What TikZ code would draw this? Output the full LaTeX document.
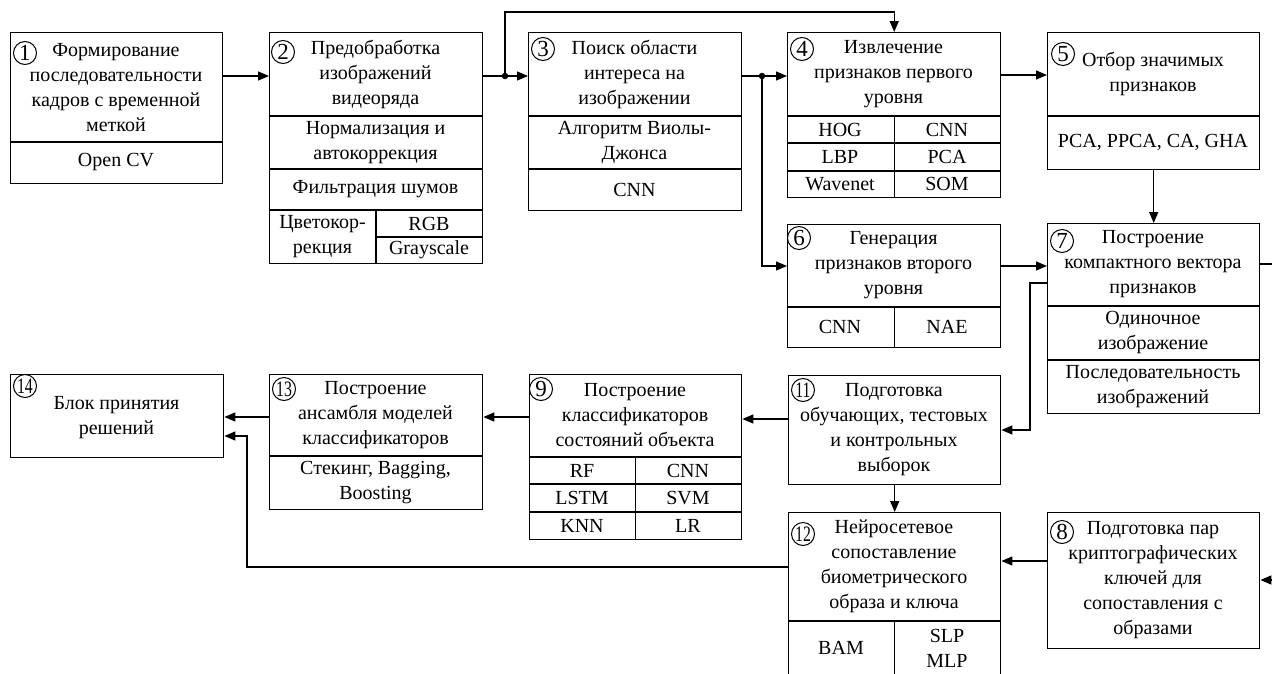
\documentclass[tikz,border=0pt]{standalone}
\usepackage{graphicx}
\usepackage{fontspec}
\setmainfont{Liberation Serif}
\usetikzlibrary{arrows.meta}

\newcommand{\twodig}[1]{\scalebox{0.72}[1]{#1}}

\tikzset{
  box/.style={draw, line width=1.4pt, rectangle, inner sep=0pt, anchor=north west},
  txt/.style={align=center, inner sep=0pt, font=\fontsize{20}{25}\selectfont},
  num/.style={draw, circle, line width=1pt, minimum size=23pt, inner sep=0pt,
              font=\fontsize{23}{23}\selectfont},
  numw/.style={num, font=\fontsize{22}{22}\selectfont},
  sep/.style={line width=1.4pt},
  link/.style={line width=1.4pt},
  arr/.style={line width=1.4pt, -{Triangle[length=11pt,width=9pt]}},
  dot/.style={circle, fill, inner sep=0pt, minimum size=6.5pt},
}

\begin{document}
\begin{tikzpicture}[x=1pt, y=-1pt]
\path[use as bounding box, clip] (0,0) rectangle (1272,673);

% ---------- block 1: frame sequence ----------
\node[box, minimum width=212pt, minimum height=151pt] (b1) at (10,32) {};
\draw[sep] (b1.west |- 0,142) -- (b1.east |- 0,142);
\node[num] (n1) at (25,53) {1};
\node[txt] (t1) at (116,87.5) {Формирование\\последовательности\\кадров с временной\\меткой};
\node[txt] (t1a) at (116,162.5) {Open CV};

% ---------- block 2: preprocessing ----------
\node[box, minimum width=213pt, minimum height=231pt] (b2) at (269,32) {};
\draw[sep] (b2.west |- 0,116) -- (b2.east |- 0,116);
\draw[sep] (b2.west |- 0,169) -- (b2.east |- 0,169);
\draw[sep] (b2.west |- 0,210) -- (b2.east |- 0,210);
\draw[sep] (376,210) -- (b2.south -| 376,0);
\draw[sep] (376,237) -- (b2.east |- 0,237);
\node[num] (n2) at (283,52) {2};
\node[txt] (t2) at (375.5,74) {Предобработка\\изображений\\видеоряда};
\node[txt] (t2a) at (375.5,142.5) {Нормализация и\\автокоррекция};
\node[txt] (t2b) at (375.5,189.5) {Фильтрация шумов};
\node[txt] (t2c) at (322.5,236.5) {Цветокор-\\рекция};
\node[txt] (t2d) at (429,223.5) {RGB};
\node[txt] (t2e) at (429,250) {Grayscale};

% ---------- block 3: region of interest ----------
\node[box, minimum width=213pt, minimum height=178pt] (b3) at (528,32) {};
\draw[sep] (b3.west |- 0,116) -- (b3.east |- 0,116);
\draw[sep] (b3.west |- 0,169) -- (b3.east |- 0,169);
\node[num] (n3) at (543,49) {3};
\node[txt] (t3) at (634.5,74) {Поиск области\\интереса на\\изображении};
\node[txt] (t3a) at (634.5,142.5) {Алгоритм Виолы-\\Джонса};
\node[txt] (t3b) at (634.5,189.5) {CNN};

% ---------- block 4: first-level features ----------
\node[box, minimum width=213pt, minimum height=165pt] (b4) at (787,32) {};
\draw[sep] (b4.west |- 0,116) -- (b4.east |- 0,116);
\draw[sep] (b4.west |- 0,143) -- (b4.east |- 0,143);
\draw[sep] (b4.west |- 0,171) -- (b4.east |- 0,171);
\draw[sep] (b4.north |- 0,116) -- (b4.south);
\node[num] (n4) at (802,49) {4};
\node[txt] (t4) at (893.5,74) {Извлечение\\признаков первого\\уровня};
\node[txt] (t4a) at (840,129.5) {HOG};
\node[txt] (t4b) at (947,129.5) {CNN};
\node[txt] (t4c) at (840,157) {LBP};
\node[txt] (t4d) at (947,157) {PCA};
\node[txt] (t4e) at (840,184) {Wavenet};
\node[txt] (t4f) at (947,184) {SOM};

% ---------- block 5: feature selection ----------
\node[box, minimum width=212pt, minimum height=137pt] (b5) at (1047,32) {};
\draw[sep] (b5.west |- 0,116) -- (b5.east |- 0,116);
\node[num] (n5) at (1063,54) {5};
\node[txt] (t5) at (1153,74) {Отбор значимых\\признаков};
\node[txt] (t5a) at (1153,142.5) {PCA, PPCA, CA, GHA};

% ---------- block 6: second-level features ----------
\node[box, minimum width=213pt, minimum height=123pt] (b6) at (787,224) {};
\draw[sep] (b6.west |- 0,307) -- (b6.east |- 0,307);
\draw[sep] (b6.north |- 0,307) -- (b6.south);
\node[num] (n6) at (799,238) {6};
\node[txt] (t6) at (893.5,265.5) {Генерация\\признаков второго\\уровня};
\node[txt] (t6a) at (840,327) {CNN};
\node[txt] (t6b) at (947,327) {NAE};

% ---------- block 7: compact feature vector ----------
\node[box, minimum width=212pt, minimum height=190pt] (b7) at (1047,223) {};
\draw[sep] (b7.west |- 0,306) -- (b7.east |- 0,306);
\draw[sep] (b7.west |- 0,360) -- (b7.east |- 0,360);
\node[num] (n7) at (1062,241) {7};
\node[txt] (t7) at (1153,264.5) {Построение\\компактного вектора\\признаков};
\node[txt] (t7a) at (1153,333) {Одиночное\\изображение};
\node[txt] (t7b) at (1153,386.5) {Последовательность\\изображений};

% ---------- block 8: key pairs ----------
\node[box, minimum width=212pt, minimum height=136pt] (b8) at (1047,512) {};
\node[num] (n8) at (1062,532) {8};
\node[txt] (t8) at (1153,580) {Подготовка пар\\криптографических\\ключей для\\сопоставления с\\образами};

% ---------- block 9: classifiers ----------
\node[box, minimum width=212pt, minimum height=165pt] (b9) at (529,374) {};
\draw[sep] (b9.west |- 0,457) -- (b9.east |- 0,457);
\draw[sep] (b9.west |- 0,484) -- (b9.east |- 0,484);
\draw[sep] (b9.west |- 0,512) -- (b9.east |- 0,512);
\draw[sep] (b9.north |- 0,457) -- (b9.south);
\node[num] (n9) at (541,389) {9};
\node[txt] (t9) at (635,415.5) {Построение\\классификаторов\\состояний объекта};
\node[txt] (t9a) at (582,470.5) {RF};
\node[txt] (t9b) at (688,470.5) {CNN};
\node[txt] (t9c) at (582,498) {LSTM};
\node[txt] (t9d) at (688,498) {SVM};
\node[txt] (t9e) at (582,525.5) {KNN};
\node[txt] (t9f) at (688,525.5) {LR};

% ---------- block 11: data sets ----------
\node[box, minimum width=212pt, minimum height=109pt] (b11) at (788,375) {};
\node[numw] (n11) at (803,390) {\twodig{11}};
\node[txt] (t11) at (894,429.5) {Подготовка\\обучающих, тестовых\\и контрольных\\выборок};

% ---------- block 12: neural matching ----------
\node[box, minimum width=212pt, minimum height=163pt] (b12) at (788,512) {};
\draw[sep] (b12.west |- 0,621) -- (b12.east |- 0,621);
\draw[sep] (b12.north |- 0,621) -- (b12.south);
\node[numw] (n12) at (803,534) {\twodig{12}};
\node[txt] (t12) at (894,566.5) {Нейросетевое\\сопоставление\\биометрического\\образа и ключа};
\node[txt] (t12a) at (841,648) {BAM};
\node[txt] (t12b) at (947,648) {SLP\\MLP};

% ---------- block 13: ensemble ----------
\node[box, minimum width=213pt, minimum height=135pt] (b13) at (269,374) {};
\draw[sep] (b13.west |- 0,456) -- (b13.east |- 0,456);
\node[numw] (n13) at (284,389) {\twodig{13}};
\node[txt] (t13) at (375.5,415) {Построение\\ансамбля моделей\\классификаторов};
\node[txt] (t13a) at (375.5,482.5) {Стекинг, Bagging,\\Boosting};

% ---------- block 14: decision ----------
\node[box, minimum width=213pt, minimum height=83pt] (b14) at (10,374) {};
\node[numw] (n14) at (25,386) {\twodig{14}};
\node[txt] (t14) at (116.5,417.5) {Блок принятия\\решений};

% ---------- branch points and edge stubs ----------
\node[dot] (j1) at (505,76) {};
\node[dot] (j2) at (762,76) {};
\coordinate (e1) at (1272,264);
\coordinate (e2) at (1272,580);

% ---------- connectors ----------
\draw[arr] (b1.east |- 0,76) -- (b2.west |- 0,76);
\draw[arr] (b2.east |- 0,76) -- (b3.west |- 0,76);
\draw[arr] (j1.center) -- (j1.center |- 0,12) -| (b4.north);
\draw[arr] (b3.east |- 0,76) -- (b4.west |- 0,76);
\draw[arr] (j2.center) |- (b6.west |- 0,266);
\draw[arr] (b4.east |- 0,75) -- (b5.west |- 0,75);
\draw[arr] (b5.south) -- (b7.north);
\draw[arr] (b6.east |- 0,266) -- (b7.west |- 0,266);
\draw[arr] (b7.west |- 0,283) -- (1030,283) |- (b11.east |- 0,430);
\draw[link] (b7.east |- e1) -- (e1);
\draw[arr] (e2) -- (b8.east |- e2);
\draw[arr] (b8.west |- 0,561) -- (b12.east |- 0,561);
\draw[arr] (b11.south) -- (b12.north);
\draw[arr] (b11.west |- 0,419) -- (b9.east |- 0,419);
\draw[arr] (b9.west |- 0,417) -- (b13.east |- 0,417);
\draw[arr] (b13.west |- 0,417) -- (b14.east |- 0,417);
\draw[arr] (b12.west |- 0,567) -| (247,436) -- (b14.east |- 0,436);
\end{tikzpicture}
\end{document}
